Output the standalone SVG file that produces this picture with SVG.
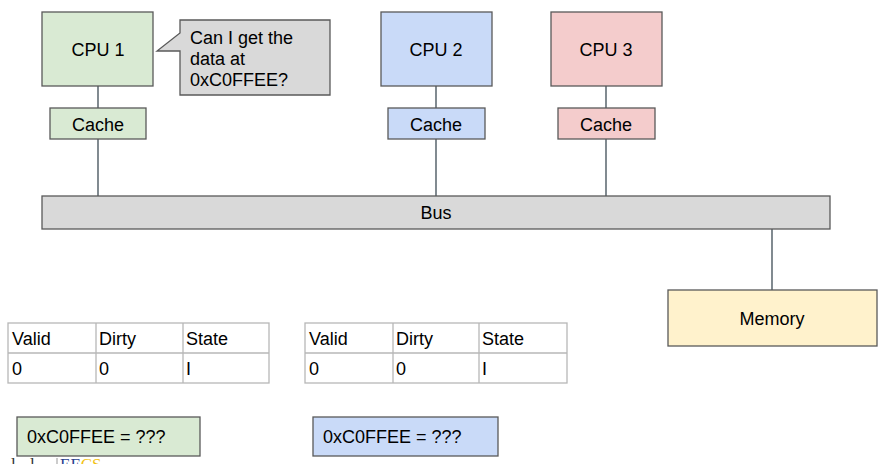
<svg xmlns="http://www.w3.org/2000/svg" width="885" height="464" viewBox="0 0 885 464">
<style>
.t{font-family:"Liberation Sans",Arial,sans-serif;font-size:18px;fill:#000}
.c{text-anchor:middle}
.n{stroke:#595959;stroke-width:1.3}
.g{fill:#d9ead3}.b{fill:#c9daf8}.r{fill:#f4cccc}.y{fill:#fff2cc}.gr{fill:#d9d9d9}
.ln{stroke:#2e3d47;stroke-width:1.2;fill:none}
.tb{fill:#fff;stroke:#b7b7b7;stroke-width:1.3}
.tl{stroke:#b7b7b7;stroke-width:1.3}
.f{font-family:"Liberation Serif",serif;font-size:17px}
</style>
<rect width="885" height="464" fill="#fff"/>
<g id="connectors">
<line class="ln" x1="98" y1="86" x2="98" y2="108"/>
<line class="ln" x1="98" y1="139" x2="98" y2="196"/>
<line class="ln" x1="436" y1="86" x2="436" y2="108"/>
<line class="ln" x1="436" y1="139" x2="436" y2="196"/>
<line class="ln" x1="606" y1="86" x2="606" y2="108"/>
<line class="ln" x1="606" y1="139" x2="606" y2="196"/>
<line class="ln" x1="772" y1="229" x2="772" y2="290"/>
</g>
<g id="cpu1"><rect class="n g" x="42" y="12" width="111" height="74"/><text class="t c" x="98" y="56">CPU 1</text></g>
<g id="callout"><path class="n gr" d="M180,20 H330 V95 H180 V51 H157 L180,33 Z"/>
<text class="t" x="190" y="44">Can I get the</text><text class="t" x="190" y="65">data at</text><text class="t" x="190" y="86">0xC0FFEE?</text></g>
<g id="cache1"><rect class="n g" x="50" y="108" width="96" height="31"/><text class="t c" x="98" y="131">Cache</text></g>
<g id="cpu2"><rect class="n b" x="381" y="12" width="111" height="74"/><text class="t c" x="436" y="56">CPU 2</text></g>
<g id="cache2"><rect class="n b" x="388" y="108" width="97" height="31"/><text class="t c" x="436" y="131">Cache</text></g>
<g id="cpu3"><rect class="n r" x="551" y="12" width="111" height="74"/><text class="t c" x="606" y="56">CPU 3</text></g>
<g id="cache3"><rect class="n r" x="558" y="108" width="97" height="31"/><text class="t c" x="606" y="131">Cache</text></g>
<g id="bus"><rect class="n gr" x="42" y="196" width="788" height="33"/><text class="t c" x="436" y="219">Bus</text></g>
<g id="memory"><rect class="n y" x="668" y="290" width="209" height="56"/><text class="t c" x="772" y="325">Memory</text></g>
<g id="table1">
<rect class="tb" x="8" y="323" width="261" height="60"/>
<line class="tl" x1="8" y1="353" x2="269" y2="353"/>
<line class="tl" x1="96" y1="323" x2="96" y2="383"/>
<line class="tl" x1="183" y1="323" x2="183" y2="383"/>
<text class="t" x="12" y="345">Valid</text><text class="t" x="99" y="345">Dirty</text><text class="t" x="186" y="345">State</text>
<text class="t" x="12" y="375">0</text><text class="t" x="99" y="375">0</text><text class="t" x="186" y="375">I</text>
</g>
<g id="table2">
<rect class="tb" x="305" y="323" width="262" height="60"/>
<line class="tl" x1="305" y1="353" x2="567" y2="353"/>
<line class="tl" x1="393" y1="323" x2="393" y2="383"/>
<line class="tl" x1="479" y1="323" x2="479" y2="383"/>
<text class="t" x="309" y="345">Valid</text><text class="t" x="396" y="345">Dirty</text><text class="t" x="482" y="345">State</text>
<text class="t" x="309" y="375">0</text><text class="t" x="396" y="375">0</text><text class="t" x="482" y="375">I</text>
</g>
<g id="value1"><rect class="n g" x="17" y="417" width="183" height="39"/><text class="t" x="27" y="443">0xC0FFEE = ???</text></g>
<g id="value2"><rect class="n b" x="313" y="417" width="185" height="39"/><text class="t" x="323" y="443">0xC0FFEE = ???</text></g>
<g id="footer">
<line x1="57" y1="458" x2="57" y2="464" stroke="#999" stroke-width="1"/>
<text class="f" x="11" y="470" fill="#333">l</text>
<text class="f" x="30" y="470" fill="#333">l</text>
<text class="f" x="60" y="470"><tspan fill="#2a3f8f">EE</tspan><tspan fill="#f2c318">CS</tspan></text>
</g>
</svg>
